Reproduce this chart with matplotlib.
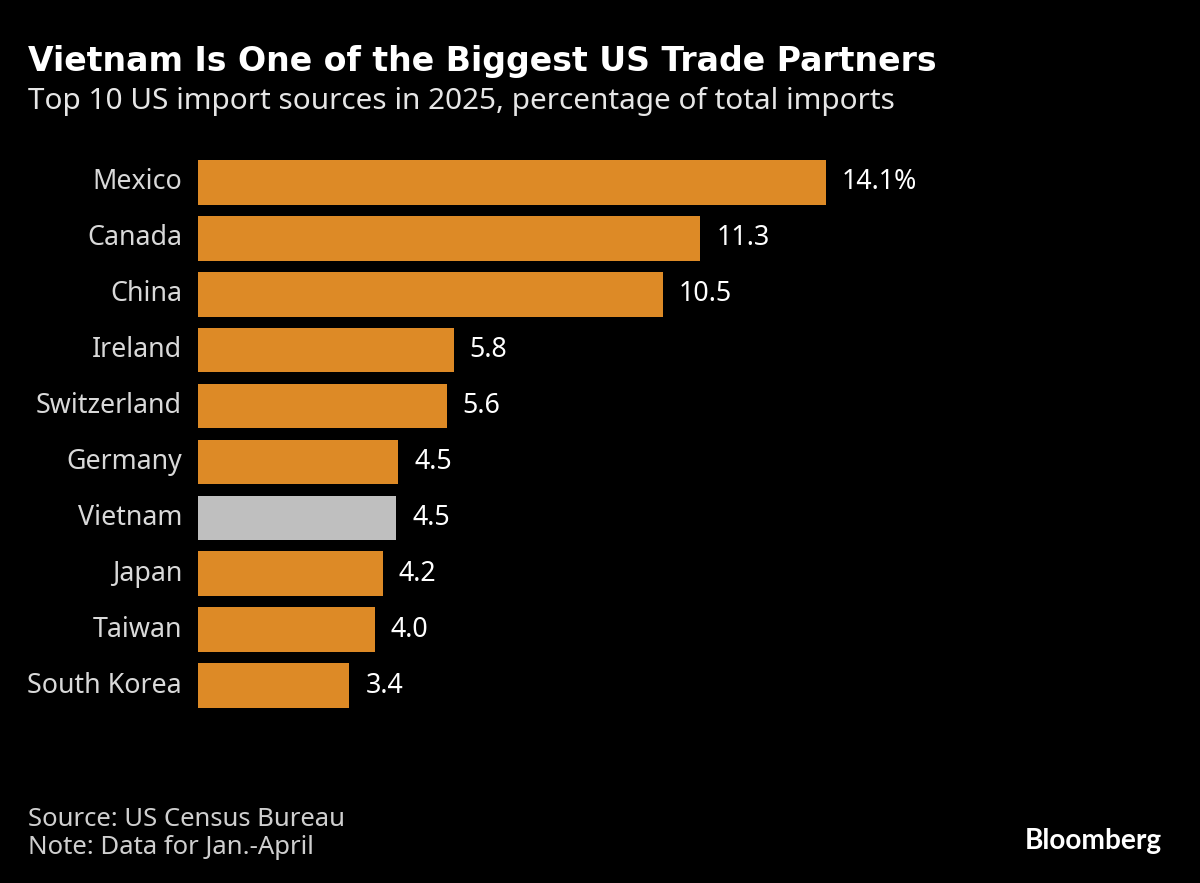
import matplotlib
matplotlib.use('Agg')
import matplotlib.pyplot as plt

countries = ['Mexico', 'Canada', 'China', 'Ireland', 'Switzerland', 'Germany',
             'Vietnam', 'Japan', 'Taiwan', 'South Korea']
shares = [14.1, 11.28, 10.44, 5.74, 5.58, 4.5, 4.45, 4.15, 3.97, 3.4]
labels = ['14.1%', '11.3', '10.5', '5.8', '5.6', '4.5', '4.5', '4.2', '4.0', '3.4']
highlight = 'Vietnam'

plt.rcParams['font.family'] = ['Noto Sans', 'DejaVu Sans']

W, H = 1200, 883
fig = plt.figure(figsize=(W / 100, H / 100), dpi=100, facecolor='black')

# axes box in pixels: x starts at the bar base, bars run 160..708 from the top
x0, x1 = 198, 826
top, bottom = 160, 708
ax = fig.add_axes([x0 / W, 1 - bottom / H, (x1 - x0) / W, (bottom - top) / H])
ax.set_facecolor('black')

colors = ['#BFBFBF' if c == highlight else '#DD8A26' for c in countries]
ypos = list(range(len(countries)))
ax.barh(ypos, shares, height=0.8, color=colors)
ax.set_xlim(0, 14.1)
ax.set_ylim(len(countries) - 1 + 0.4, -0.4)
for s in ax.spines.values():
    s.set_visible(False)
ax.set_xticks([])
ax.set_yticks(ypos)
ax.set_yticklabels(countries, color='#D9D9D9', fontsize=19.3, va='center')
ax.tick_params(axis='y', length=0, pad=11.5)

for y, v, t in zip(ypos, shares, labels):
    ax.annotate(t, (v, y), xytext=(11.5, 0), textcoords='offset points', color='white',
                fontsize=19.3, va='center', ha='left', annotation_clip=False)

fig.text(28 / W, 1 - 62 / H, 'Vietnam Is One of the Biggest US Trade Partners',
         color='white', fontsize=23.9, fontweight='bold', family='DejaVu Sans', va='center')
fig.text(28 / W, 1 - 101 / H, 'Top 10 US import sources in 2025, percentage of total imports',
         color='#E6E6E6', fontsize=21.4, va='center')
fig.text(28 / W, 1 - 819 / H, 'Source: US Census Bureau', color='#CFCFCF', fontsize=18.5, va='center')
fig.text(28 / W, 1 - 848 / H, 'Note: Data for Jan.-April', color='#CFCFCF', fontsize=18.5, va='center')
fig.text(1162 / W, 1 - 841 / H, 'Bloomberg', color='white', fontsize=20.2, fontweight='bold',
         family='Lato', va='center', ha='right')

fig.savefig('out.png', dpi=100, facecolor='black')
